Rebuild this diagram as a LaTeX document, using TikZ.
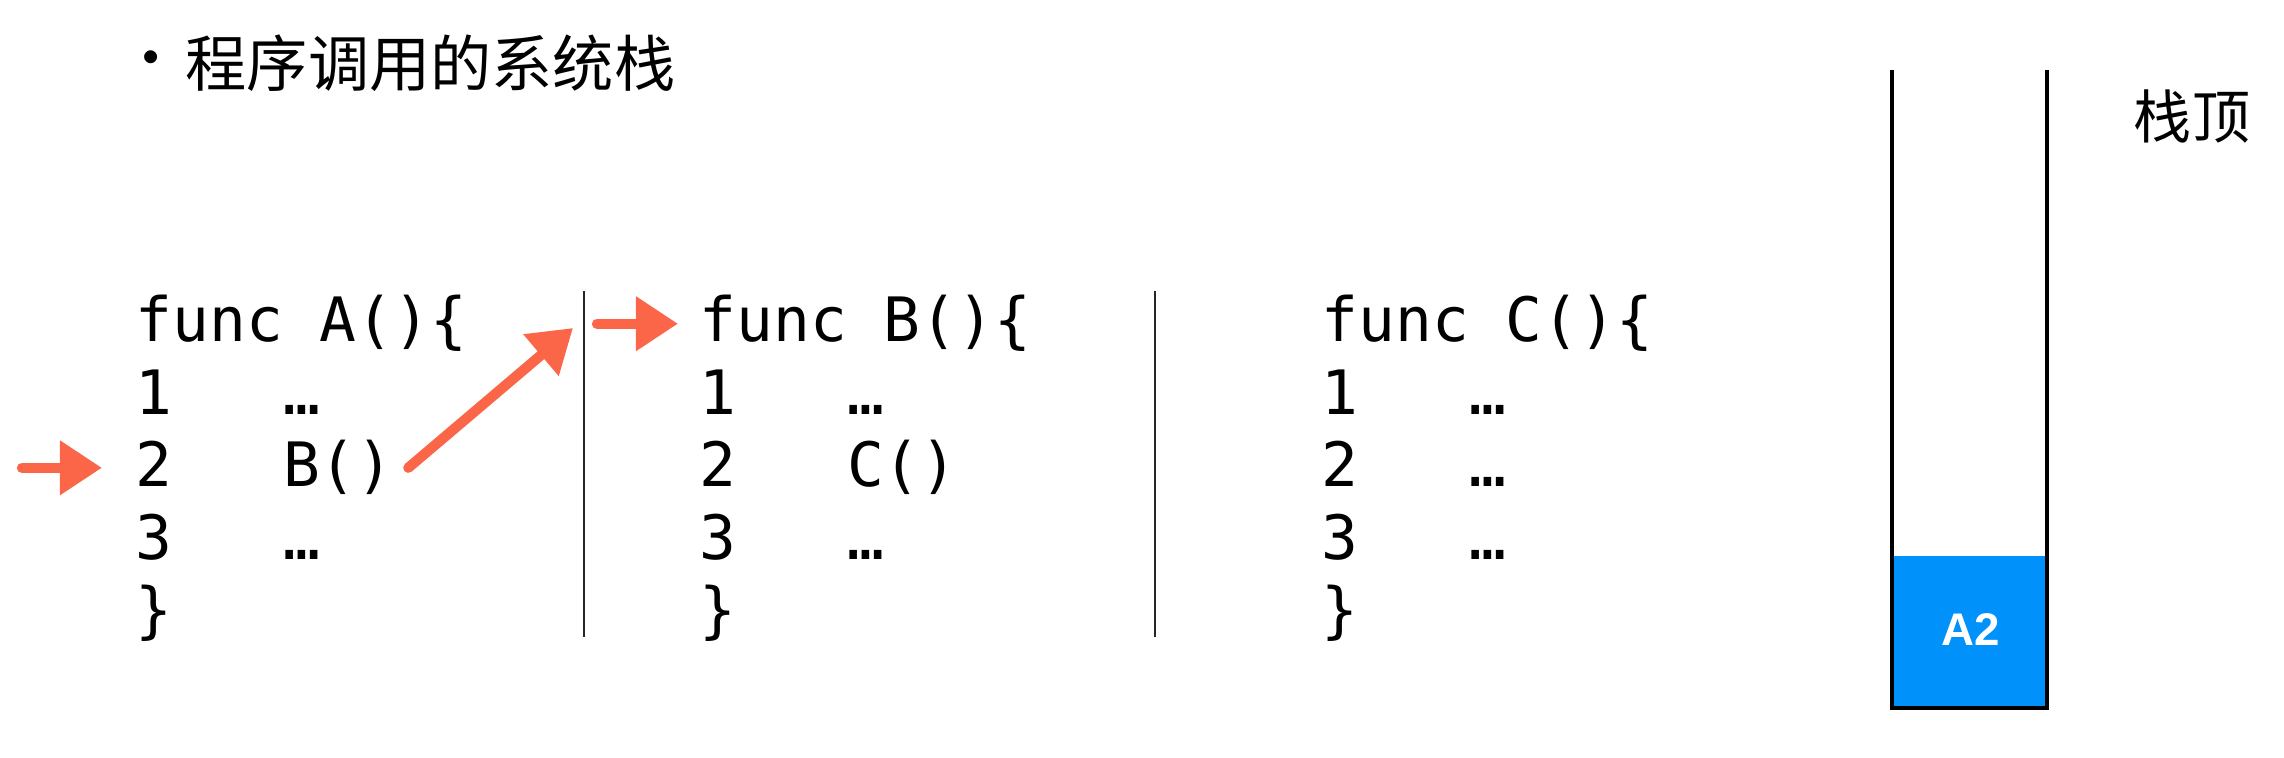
\documentclass[tikz,border=0pt]{standalone}
\usepackage{fontspec}
\usepackage{tikz}
\usetikzlibrary{arrows.meta}
\newfontfamily\cjk{Noto Sans CJK SC}
\newfontfamily\codefont{DejaVu Sans Mono}
\newfontfamily\boxfont{Liberation Sans}
\definecolor{callred}{RGB}{252,102,72}
\definecolor{stackblue}{RGB}{0,145,250}
\tikzset{
  codeline/.style={anchor=base west,inner sep=0pt,font=\codefont\fontsize{17.4}{20}\selectfont},
  callarrow/.style={draw=callred,line width=2.9pt,line cap=round,-{Triangle[width=0.52cm,length=0.42cm]}},
  divider/.style={draw=black!85,line width=0.7pt}
}
\begin{document}
\begin{tikzpicture}[x=0.01cm,y=-0.01cm]
  \useasboundingbox (0,0) rectangle (2284,758);
  % title
  \node[font=\cjk\fontsize{17.4}{20}\selectfont,inner sep=0pt] (dot) at (151,66) {•};
  \node[font=\cjk\fontsize{17.4}{20}\selectfont,anchor=west,inner sep=0pt] (title) at (185,63) {程序调用的系统栈};
  % the three functions
  \foreach \n/\N/\x/\mid in {a/A/135/B(),b/B/699/C(),c/C/1321/…}{
    \node[codeline] (\n-head) at (\x,342) {func \N()\{};
    \node[codeline] (\n-1) at (\x,414.5) {1\ \ \ …};
    \node[codeline] (\n-2) at (\x,487) {2\ \ \ \mid};
    \node[codeline] (\n-3) at (\x,559.5) {3\ \ \ …};
    \node[codeline] (\n-end) at (\x,632) {\}};
  }
  \draw[divider] (584,291) -- (584,637);
  \draw[divider] (1155,291) -- (1155,637);
  % calls
  \coordinate (pc) at ([xshift=-1.13cm]a-2.west);
  \coordinate (callin) at (573,328);
  \coordinate (entry) at ([xshift=-1.02cm]b-head.west);
  \draw[callarrow] (pc) -- ([xshift=-0.33cm]a-2.west);
  \draw[callarrow] ([xshift=0.14cm]a-2.east) -- (callin);
  \draw[callarrow] (entry) -- ([xshift=-0.21cm]b-head.west);
  % stack
  \fill[stackblue] (1892,556) rectangle (2047,708);
  \draw[line width=1pt] (1892,70) -- (1892,708) -- (2047,708) -- (2047,70);
  \node[font=\boxfont\bfseries\fontsize{13}{15}\selectfont,text=white] (a2) at (1971,630) {A2};
  \node[font=\cjk\fontsize{16.5}{20}\selectfont,inner sep=0pt] (top) at (2192,117) {栈顶};
\end{tikzpicture}
\end{document}
